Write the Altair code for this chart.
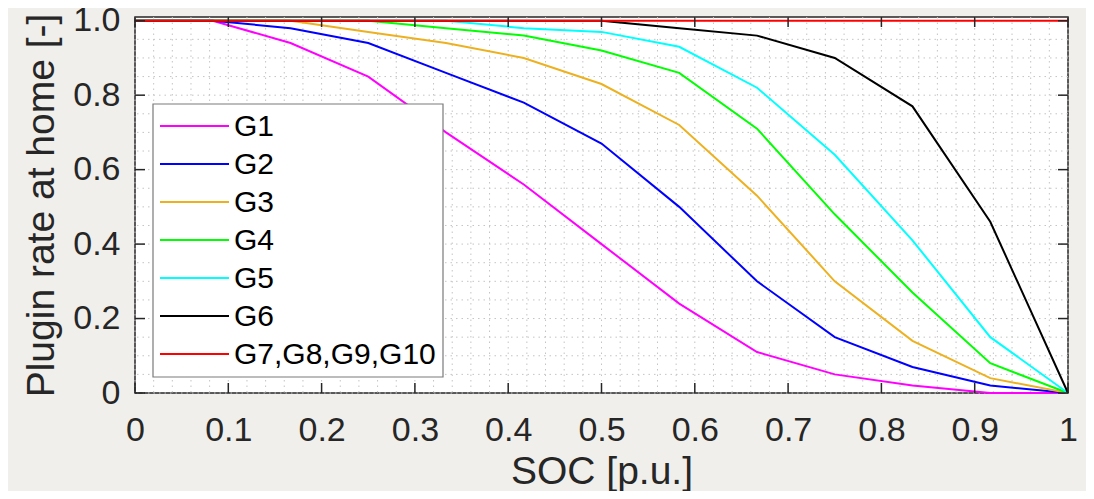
import altair as alt
import pandas as pd

# ---------------- data ----------------
soc = [0.0, 0.0833, 0.1667, 0.25, 0.3333, 0.4167, 0.5, 0.5833, 0.6667, 0.75, 0.8333, 0.9167, 1.0]
g1 = [1.0, 1.0, 0.94, 0.85, 0.70, 0.56, 0.40, 0.24, 0.11, 0.05, 0.02, 0.0, 0.0]
g2 = [1.0, 1.0, 0.98, 0.94, 0.86, 0.78, 0.67, 0.50, 0.30, 0.15, 0.07, 0.02, 0.0]
g3 = [1.0, 1.0, 1.0, 0.97, 0.94, 0.90, 0.83, 0.72, 0.53, 0.30, 0.14, 0.04, 0.0]
g4 = [1.0, 1.0, 1.0, 1.0, 0.98, 0.96, 0.92, 0.86, 0.71, 0.48, 0.27, 0.08, 0.0]
g5 = [1.0, 1.0, 1.0, 1.0, 1.0, 0.98, 0.97, 0.93, 0.82, 0.64, 0.41, 0.15, 0.0]
g6 = [1.0, 1.0, 1.0, 1.0, 1.0, 1.0, 1.0, 0.98, 0.96, 0.90, 0.77, 0.46, 0.0]
g7 = [1.0, 1.0, 1.0, 1.0, 1.0, 1.0, 1.0, 1.0, 1.0, 1.0, 1.0, 1.0, 1.0]

series_names = ["G1", "G2", "G3", "G4", "G5", "G6", "G7,G8,G9,G10"]
series_values = [g1, g2, g3, g4, g5, g6, g7]
series_colors = ["#ff00ff", "#0000ff", "#edb120", "#00ff00", "#00ffff", "#000000", "#ff0000"]

x_ticks = [0, 0.1, 0.2, 0.3, 0.4, 0.5, 0.6, 0.7, 0.8, 0.9, 1.0]
y_ticks = [0, 0.2, 0.4, 0.6, 0.8, 1.0]
x_minor = [round(i * 0.02, 2) for i in range(51)]
y_minor = [round(i * 0.05, 2) for i in range(21)]

# ---------------- styling ----------------
W, H = 933, 376
FONT = "Liberation Sans"
TXT = "#262626"
BG = "#f0efeb"
GRID = "#c4c4c4"

rows = []
for name, vals in zip(series_names, series_values):
    for s, v in zip(soc, vals):
        rows.append({"soc": s, "rate": v, "series": name})
df = pd.DataFrame(rows)

xscale = alt.Scale(domain=[0, 1], nice=False, zero=False)
yscale = alt.Scale(domain=[0, 1.01], nice=False, zero=False)

xaxis = alt.Axis(
    values=x_ticks,
    labelExpr="datum.value == 0 || datum.value == 1 ? format(datum.value, 'd') : format(datum.value, '.1f')",
    title="SOC [p.u.]",
    grid=False, ticks=False, domain=False,
    labelFont=FONT, labelFontSize=34, labelColor=TXT,
    labelPadding=47, labelBaseline="alphabetic", labelFlush=False, labelOverlap=False,
    titleFont=FONT, titleFontSize=39, titleColor=TXT, titleFontWeight="normal",
    titleY=90, titleBaseline="alphabetic",
)
yaxis = alt.Axis(
    values=y_ticks,
    labelExpr="datum.value == 0 ? '0' : format(datum.value, '.1f')",
    title="Plugin rate at home [-]",
    grid=False, ticks=False, domain=False,
    labelFont=FONT, labelFontSize=34, labelColor=TXT,
    labelPadding=15, labelFlush=False, labelOverlap=False,
    titleFont=FONT, titleFontSize=39, titleColor=TXT, titleFontWeight="normal",
    titleX=-81.7, titleY=H / 2, titleBaseline="alphabetic", titleAngle=270,
)

X = lambda f: alt.X(f, type="quantitative", scale=xscale, axis=xaxis)
Y = lambda f: alt.Y(f, type="quantitative", scale=yscale, axis=yaxis)

gx_df = pd.DataFrame({"gx": x_minor})
gy_df = pd.DataFrame({"gy": y_minor})
tx_df = pd.DataFrame({"tx": x_ticks})
ty_df = pd.DataFrame({"ty": y_ticks})

grid_x = alt.Chart(gx_df).mark_rule(color=GRID, strokeWidth=1, strokeDash=[1.5, 4]).encode(x=X("gx"))
grid_y = alt.Chart(gy_df).mark_rule(color=GRID, strokeWidth=1, strokeDash=[1.5, 4]).encode(y=Y("gy"))

lines = alt.Chart(df).mark_line(strokeWidth=2).encode(
    x=X("soc"),
    y=Y("rate"),
    color=alt.Color("series:N", scale=alt.Scale(domain=series_names, range=series_colors), legend=None),
)

TL = 10
tick_b = alt.Chart(tx_df).mark_rule(color=TXT, strokeWidth=1.5).encode(x=X("tx"), y=alt.value(H), y2=alt.value(H - TL))
tick_t = alt.Chart(tx_df).mark_rule(color=TXT, strokeWidth=1.5).encode(x=X("tx"), y=alt.value(0), y2=alt.value(TL))
tick_l = alt.Chart(ty_df).mark_rule(color=TXT, strokeWidth=1.5).encode(y=Y("ty"), x=alt.value(0), x2=alt.value(TL))
tick_r = alt.Chart(ty_df).mark_rule(color=TXT, strokeWidth=1.5).encode(y=Y("ty"), x=alt.value(W), x2=alt.value(W - TL))

one = pd.DataFrame({"a": [0]})
leg_box = alt.Chart(one).mark_rect(fill="white", stroke="#7a7a7a", strokeWidth=1.2).encode(
    x=alt.value(18), x2=alt.value(308), y=alt.value(87), y2=alt.value(360)
)
legend_layers = [leg_box]
for i, (name, col) in enumerate(zip(series_names, series_colors)):
    yy = 109 + 38 * i
    legend_layers.append(
        alt.Chart(one).mark_rule(color=col, strokeWidth=2).encode(
            x=alt.value(25), x2=alt.value(94), y=alt.value(yy)
        )
    )
    legend_layers.append(
        alt.Chart(one).mark_text(align="left", baseline="middle", font=FONT, fontSize=30, color="#000000").encode(
            x=alt.value(99), y=alt.value(yy + 1), text=alt.value(name)
        )
    )

chart = alt.layer(
    grid_x, grid_y, lines, tick_b, tick_t, tick_l, tick_r, *legend_layers
).properties(
    width=W, height=H,
    background=BG,
    padding={"left": 127, "top": 9, "right": 18, "bottom": 98},
    autosize=alt.AutoSizeParams(type="none"),
).configure_view(
    fill="white", stroke=TXT, strokeWidth=1.5
)

chart.save("out.html", embed_options={"renderer": "svg", "actions": False})
